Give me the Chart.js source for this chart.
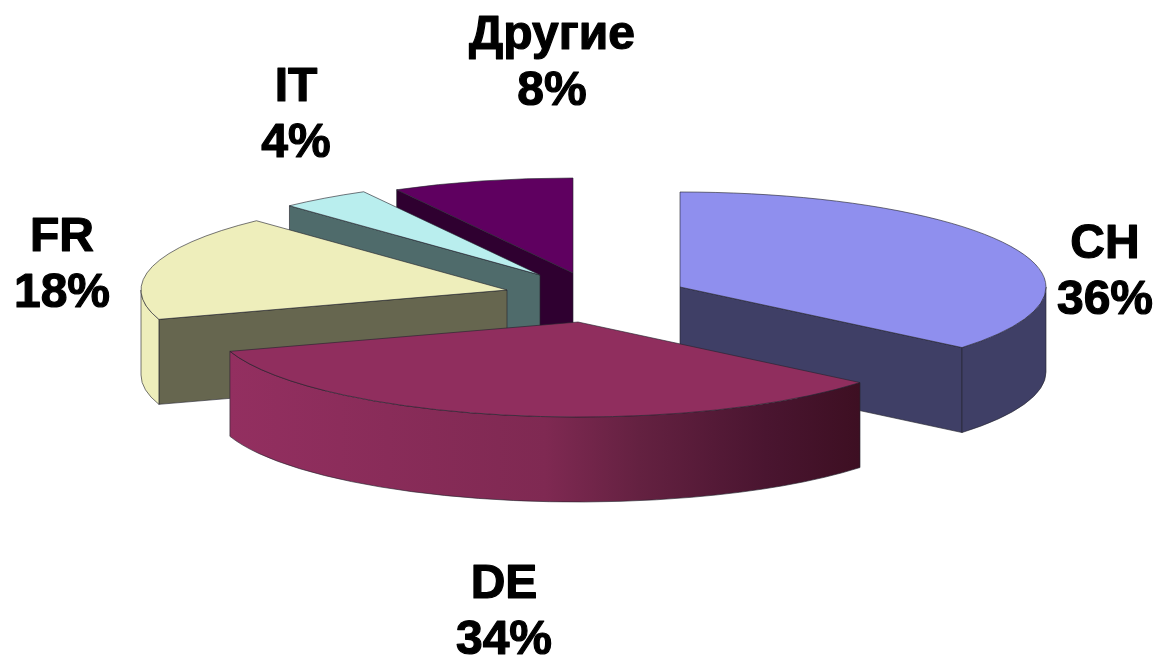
<!DOCTYPE html>
<html>
<head>
<meta charset="utf-8">
<style>
html,body{margin:0;padding:0;background:#fff;}
canvas{display:block;filter:blur(0.45px);}
</style>
<script src="https://cdn.jsdelivr.net/npm/chart.js@4"></script>
</head>
<body>
<canvas id="c" width="1160" height="658"></canvas>
<script>
const categories = ['CH', 'DE', 'FR', 'IT', 'Другие'];
const shares = [36, 34, 18, 4, 8];

const topColors = ['#8f8fee', '#902e5e', '#eeeebb', '#b9eeee', '#5f0060'];
const wallColors = ['#3f3f66', '#902e5e', '#66664f', '#4f6b6b', '#2f0030'];
const rimColors = ['#3f3f66', null, '#eeeebb', '#4f6b6b', '#2f0030'];
const rimStops = [[0, '#932f60'], [0.5, '#7f2952'], [0.65, '#642141'], [0.85, '#4a1530'], [1, '#3d0f22']];

const explodeX = [100, -2, -73, -40, -7];
const explodeY = [-42, -7, -39, -54, -56];
const paintOrder = [4, 3, 2, 0, 1];
const labelX = [1105, 504, 62, 296, 552];
const labelY = [245, 585, 238, 88, 36];
const RX = 366, RY = 95, DEPTH = 85, LINE = 56;
const EDGE = 'rgba(35,35,45,0.62)';

const tilt3d = {
  id: 'tilt3d',
  beforeDatasetsDraw(chart) {
    const ctx = chart.ctx;
    const arcs = chart.getDatasetMeta(0).data;
    paintOrder.forEach(i => {
      const arc = arcs[i];
      const cx = arc.x + explodeX[i], cy = arc.y + explodeY[i];
      const s = arc.startAngle, e = arc.endAngle;
      const px = t => cx + Math.cos(t) * RX, py = t => cy + Math.sin(t) * RY;

      const wall = t => {
        ctx.beginPath();
        ctx.moveTo(cx, cy);
        ctx.lineTo(px(t), py(t));
        ctx.lineTo(px(t), py(t) + DEPTH);
        ctx.lineTo(cx, cy + DEPTH);
        ctx.closePath();
        ctx.fillStyle = wallColors[i];
        ctx.fill();
        ctx.strokeStyle = EDGE;
        ctx.lineWidth = 1;
        ctx.stroke();
      };
      if (Math.cos(s) < -1e-6) wall(s);
      if (Math.cos(e) > 1e-6) wall(e);

      const lo = Math.max(s, 0), hi = Math.min(e, Math.PI);
      if (lo < hi) {
        ctx.beginPath();
        ctx.ellipse(cx, cy, RX, RY, 0, lo, hi);
        ctx.ellipse(cx, cy + DEPTH, RX, RY, 0, hi, lo, true);
        ctx.closePath();
        if (rimColors[i]) {
          ctx.fillStyle = rimColors[i];
        } else {
          const g = ctx.createLinearGradient(px(hi), 0, px(lo), 0);
          rimStops.forEach(st => g.addColorStop(st[0], st[1]));
          ctx.fillStyle = g;
        }
        ctx.fill();
        ctx.strokeStyle = EDGE;
        ctx.lineWidth = 1;
        ctx.stroke();
      }

      ctx.save();
      ctx.translate(cx, cy);
      ctx.scale(RX / arc.outerRadius, RY / arc.outerRadius);
      ctx.translate(-arc.x, -arc.y);
      arc.draw(ctx);
      ctx.restore();

      ctx.beginPath();
      ctx.moveTo(cx, cy);
      ctx.ellipse(cx, cy, RX, RY, 0, s, e);
      ctx.closePath();
      ctx.strokeStyle = EDGE;
      ctx.lineWidth = 1;
      ctx.stroke();
    });
    return false;
  },
  afterDraw(chart) {
    const ctx = chart.ctx;
    ctx.save();
    ctx.fillStyle = '#000';
    ctx.strokeStyle = '#000';
    ctx.lineWidth = 1.2;
    ctx.lineJoin = 'round';
    ctx.font = 'bold 48px "Liberation Sans", Arial, sans-serif';
    ctx.textAlign = 'center';
    ctx.textBaseline = 'middle';
    categories.forEach((name, i) => {
      const pct = shares[i] + '%';
      ctx.fillText(name, labelX[i], labelY[i]);
      ctx.strokeText(name, labelX[i], labelY[i]);
      ctx.fillText(pct, labelX[i], labelY[i] + LINE);
      ctx.strokeText(pct, labelX[i], labelY[i] + LINE);
    });
    ctx.restore();
  }
};

new Chart(document.getElementById('c'), {
  type: 'pie',
  data: {
    labels: categories,
    datasets: [{ data: shares, backgroundColor: topColors, borderWidth: 0 }]
  },
  options: {
    responsive: false,
    animation: false,
    rotation: 0,
    plugins: { legend: { display: false }, tooltip: { enabled: false } }
  },
  plugins: [tilt3d]
});
</script>
</body>
</html>
